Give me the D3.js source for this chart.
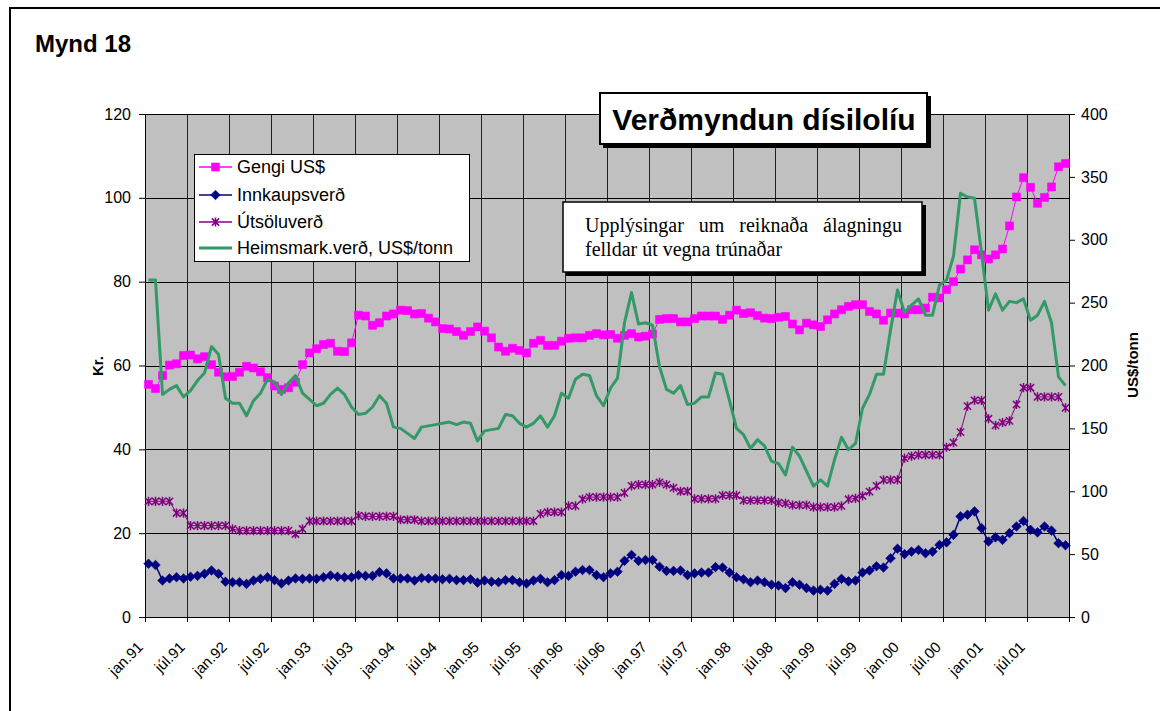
<!DOCTYPE html>
<html>
<head>
<meta charset="utf-8">
<script src="https://cdn.jsdelivr.net/npm/d3@7"></script>
<style>
  body { margin: 0; background: #fff; }
  svg { display: block; font-family: "Liberation Sans", Arial, sans-serif; }
</style>
</head>
<body>
<svg width="1160" height="711"></svg>
<script>
// Monthly values jan.91 - des.01 (132 months)
const gengi = [
  55.5, 54.5, 57.6, 60.1, 60.4, 62.4, 62.5, 61.6, 62.1, 60.2,
  58.4, 57.3, 57.4, 58.4, 59.8, 59.4, 58.5, 57.1, 55.1, 54.3,
  54.7, 56.0, 60.2, 63.0, 64.0, 65.0, 65.3, 63.4, 63.3, 65.4,
  72.0, 71.8, 69.6, 70.2, 71.8, 72.3, 73.2, 73.1, 72.3, 72.4,
  71.3, 70.4, 68.8, 68.7, 68.1, 67.2, 68.1, 69.2, 68.2, 66.6,
  64.4, 63.4, 64.1, 63.6, 63.0, 65.3, 66.0, 64.8, 64.8, 65.8,
  66.5, 66.6, 66.6, 67.2, 67.6, 67.3, 67.4, 66.5, 67.2, 67.6,
  66.8, 67.0, 67.5, 71.0, 71.2, 71.2, 70.4, 70.4, 71.2, 71.8,
  71.8, 71.8, 71.0, 72.0, 73.2, 72.4, 72.6, 71.9, 71.3, 71.2,
  71.5, 71.7, 69.9, 68.5, 70.1, 69.7, 69.3, 70.9, 72.3, 73.3,
  74.1, 74.5, 74.5, 72.9, 72.3, 70.8, 72.5, 72.5, 72.3, 73.3,
  73.3, 73.7, 76.3, 76.1, 78.1, 80.0, 83.0, 85.2, 87.6, 86.4,
  85.4, 86.4, 87.8, 93.3, 100.2, 104.8, 102.5, 98.7, 100.1, 102.6,
  107.4, 108.2
];
const innkaup = [
  12.7, 12.4, 8.7, 9.2, 9.5, 9.2, 9.6, 9.8, 10.3, 11.1,
  10.3, 8.4, 8.3, 8.3, 7.9, 8.7, 9.1, 9.5, 8.8, 8.0,
  8.7, 9.2, 9.1, 9.2, 9.1, 9.5, 9.9, 9.6, 9.5, 9.5,
  10.0, 9.8, 9.8, 10.7, 10.4, 9.2, 9.2, 9.2, 8.7, 9.3,
  9.2, 9.2, 9.0, 9.1, 8.8, 8.8, 9.0, 8.2, 8.7, 8.4,
  8.3, 8.8, 8.8, 8.3, 8.0, 8.7, 9.1, 8.3, 8.8, 10.0,
  9.8, 10.8, 11.2, 11.2, 10.0, 9.5, 10.4, 10.8, 13.4, 14.8,
  13.4, 13.6, 13.6, 12.0, 11.0, 11.0, 11.1, 10.0, 10.4, 10.6,
  10.6, 11.9, 11.8, 10.6, 9.5, 9.0, 8.3, 8.7, 8.3, 7.7,
  7.5, 6.9, 8.3, 7.7, 6.9, 6.3, 6.5, 6.3, 7.9, 9.1,
  8.5, 8.7, 10.6, 11.1, 12.1, 11.8, 14.0, 16.3, 15.0, 15.6,
  16.0, 15.2, 15.6, 17.2, 17.8, 19.6, 24.0, 24.4, 25.2, 21.2,
  18.0, 19.0, 18.4, 20.0, 21.6, 22.9, 20.8, 20.2, 21.6, 20.6,
  17.6, 17.1
];
const utsolu = [
  27.6, 27.6, 27.6, 27.6, 24.8, 24.8, 21.8, 21.8, 21.8, 21.8,
  21.8, 21.8, 21.0, 20.6, 20.6, 20.6, 20.6, 20.6, 20.6, 20.6,
  20.6, 19.8, 21.0, 22.9, 22.9, 22.9, 22.9, 22.9, 22.9, 22.9,
  24.2, 24.0, 24.0, 24.0, 24.0, 24.0, 23.2, 23.2, 23.2, 22.9,
  22.9, 22.9, 22.9, 22.9, 22.9, 22.9, 22.9, 22.9, 22.9, 22.9,
  22.9, 22.9, 22.9, 22.9, 22.9, 22.9, 24.6, 25.0, 25.0, 25.0,
  26.5, 26.5, 28.1, 28.6, 28.6, 28.6, 28.6, 28.6, 29.6, 31.3,
  31.6, 31.6, 31.6, 32.1, 31.6, 30.8, 30.0, 30.0, 28.2, 28.2,
  28.2, 28.2, 29.0, 29.0, 29.0, 27.8, 27.8, 27.8, 27.8, 27.8,
  27.3, 27.1, 26.7, 26.7, 26.7, 26.2, 26.2, 26.2, 26.2, 26.5,
  28.1, 28.3, 28.9, 29.9, 31.3, 32.7, 32.7, 32.7, 37.9, 38.4,
  38.7, 38.7, 38.7, 38.7, 40.5, 41.6, 44.1, 50.3, 51.7, 51.7,
  47.3, 45.7, 46.4, 46.8, 50.7, 54.7, 54.7, 52.5, 52.5, 52.5,
  52.5, 49.9
];
// US$/tonn, right axis
const heimsmark = [
  268, 268, 177, 181, 184, 175, 180, 188, 194, 215,
  209, 174, 170, 170, 160, 172, 178, 189, 187, 177,
  186, 192, 178, 173, 168, 170, 177, 182, 177, 167,
  161, 162, 167, 176, 170, 151, 150, 146, 142, 151,
  152, 153, 154, 155, 153, 155, 154, 140, 148, 149,
  150, 161, 160, 154, 151, 154, 160, 151, 160, 178,
  174, 189, 193, 192, 176, 168, 182, 190, 234, 258,
  233, 234, 232, 199, 181, 178, 184, 169, 170, 175,
  175, 194, 193, 172, 150, 145, 134, 141, 136, 124,
  122, 113, 135, 128, 116, 104, 109, 104, 125, 143,
  133, 138, 166, 177, 193, 193, 228, 260, 242, 248,
  253, 240, 240, 264, 268, 287, 337, 334, 333, 290,
  244, 257, 244, 251, 250, 253, 236, 240, 251, 234,
  191, 184
];

const leftTicks = [0, 20, 40, 60, 80, 100, 120];
const rightTicks = [0, 50, 100, 150, 200, 250, 300, 350, 400];

// month labels, one per month, shown every 6th
const months = [];
for (let y = 91; y <= 101; y++) {
  ["jan", "feb", "mar", "apr", "maí", "jún", "júl", "ágú", "sep", "okt", "nóv", "des"]
    .forEach(m => months.push(m + "." + String(y % 100).padStart(2, "0")));
}

const svg = d3.select("svg");
const plot = { left: 145, right: 1069, top: 114, bottom: 617 };

const x = d3.scaleBand().domain(d3.range(months.length)).range([plot.left, plot.right]);
const xc = i => x(i) + x.bandwidth() / 2;
const yL = d3.scaleLinear().domain([0, 120]).range([plot.bottom, plot.top]);
const yR = d3.scaleLinear().domain([0, 400]).range([plot.bottom, plot.top]);

// outer frame
svg.append("rect")
    .attr("x", 10).attr("y", 8)
    .attr("width", 1200).attr("height", 800)
    .style("fill", "#fff")
    .style("stroke", "#000")
    .style("stroke-width", 2);

svg.append("text")
    .attr("x", 35).attr("y", 52)
    .style("font-size", "24px")
    .style("font-weight", "bold")
    .text("Mynd 18");

// plot background
svg.append("rect")
    .attr("x", plot.left).attr("y", plot.top)
    .attr("width", plot.right - plot.left)
    .attr("height", plot.bottom - plot.top)
    .style("fill", "#c0c0c0");

// vertical gridlines every 6 months
const sixIdx = d3.range(0, months.length, 6);
svg.append("g").selectAll("line")
    .data(sixIdx.slice(1))
    .enter().append("line")
    .attr("x1", d => x(d) + 0.5).attr("x2", d => x(d) + 0.5)
    .attr("y1", plot.top).attr("y2", plot.bottom)
    .style("stroke", "#222")
    .style("stroke-width", 1);

// horizontal gridlines
svg.append("g").selectAll("line")
    .data(leftTicks)
    .enter().append("line")
    .attr("x1", plot.left).attr("x2", plot.right)
    .attr("y1", d => Math.round(yL(d)) + 0.5).attr("y2", d => Math.round(yL(d)) + 0.5)
    .style("stroke", "#000")
    .style("stroke-width", 1);

// axes
const axL = svg.append("g")
    .attr("transform", `translate(${plot.left},0)`)
    .call(d3.axisLeft(yL).tickValues(leftTicks).tickSize(6).tickPadding(8).tickSizeOuter(0));
const axR = svg.append("g")
    .attr("transform", `translate(${plot.right},0)`)
    .call(d3.axisRight(yR).tickValues(rightTicks).tickSize(6).tickPadding(6).tickSizeOuter(0));
[axL, axR].forEach(a => {
    a.selectAll("text").style("font-size", "16px").style("font-family", "'Liberation Sans', Arial, sans-serif").style("fill", "#000");
    a.selectAll("line, path").style("stroke", "#000");
});

// bottom axis line + ticks
svg.append("line")
    .attr("x1", plot.left - 6).attr("x2", plot.right)
    .attr("y1", plot.bottom + 0.5).attr("y2", plot.bottom + 0.5)
    .style("stroke", "#000");
svg.append("g").selectAll("line")
    .data(sixIdx.concat([months.length]))
    .enter().append("line")
    .attr("x1", d => (d < months.length ? x(d) : plot.right) + 0.5)
    .attr("x2", d => (d < months.length ? x(d) : plot.right) + 0.5)
    .attr("y1", plot.bottom).attr("y2", plot.bottom + 5)
    .style("stroke", "#000");

// x labels
svg.append("g").selectAll("text")
    .data(sixIdx)
    .enter().append("text")
    .attr("transform", d => `translate(${x(d) - 1},648) rotate(-45)`)
    .style("text-anchor", "end")
    .style("font-size", "15px")
    .text(d => months[d]);

// axis titles
svg.append("text")
    .attr("transform", "translate(103,366) rotate(-90)")
    .style("text-anchor", "middle")
    .style("font-size", "15px")
    .style("font-weight", "bold")
    .text("Kr.");
svg.append("text")
    .attr("transform", "translate(1138,365) rotate(-90)")
    .style("text-anchor", "middle")
    .style("font-size", "15px")
    .style("font-weight", "bold")
    .text("US$/tonn");

// series
const lineL = d3.line().x((d, i) => xc(i)).y(d => yL(d));
const lineR = d3.line().x((d, i) => xc(i)).y(d => yR(d));

const squarePath = "M-4,-4L4,-4L4,4L-4,4Z";
const diamondPath = "M0,-4.8L4.8,0L0,4.8L-4.8,0Z";
const starPath = "M-3.6,-3.6L3.6,3.6M-3.6,3.6L3.6,-3.6M0,-4.6L0,4.6";

function drawSeries(values, color, width, marker) {
    svg.append("path")
        .datum(values)
        .attr("d", lineL)
        .style("fill", "none")
        .style("stroke", color)
        .style("stroke-width", width);
    svg.append("g").selectAll("path")
        .data(values)
        .enter().append("path")
        .attr("transform", (d, i) => `translate(${xc(i)},${yL(d)})`)
        .attr("d", marker)
        .style("fill", marker === starPath ? "none" : color)
        .style("stroke", color)
        .style("stroke-width", marker === starPath ? 1.5 : 0.6);
}

drawSeries(gengi, "#ff00ff", 1, squarePath);
drawSeries(innkaup, "#000080", 1.5, diamondPath);
drawSeries(utsolu, "#800080", 1, starPath);

svg.append("path")
    .datum(heimsmark)
    .attr("d", lineR)
    .style("fill", "none")
    .style("stroke", "#339966")
    .style("stroke-width", 3)
    .style("stroke-linejoin", "round");

// legend
const legend = svg.append("g");
legend.append("rect")
    .attr("x", 194.5).attr("y", 154.5)
    .attr("width", 275).attr("height", 107)
    .style("fill", "#fff")
    .style("stroke", "#000")
    .style("stroke-width", 1);
const legendItems = [
    { name: "Gengi US$", color: "#ff00ff", marker: squarePath, w: 1.5 },
    { name: "Innkaupsverð", color: "#000080", marker: diamondPath, w: 1.5 },
    { name: "Útsöluverð", color: "#800080", marker: starPath, w: 1.5 },
    { name: "Heimsmark.verð, US$/tonn", color: "#339966", marker: null, w: 3 }
];
const legendY = [167, 195, 222, 248];
legendItems.forEach((it, k) => {
    const g = legend.append("g").attr("transform", `translate(0,${legendY[k]})`);
    g.append("line")
        .attr("x1", 199).attr("x2", 232)
        .style("stroke", it.color)
        .style("stroke-width", it.w);
    if (it.marker) {
        g.append("path")
            .attr("transform", "translate(215.5,0)")
            .attr("d", it.marker)
            .style("fill", it.marker === starPath ? "none" : it.color)
            .style("stroke", it.color)
            .style("stroke-width", it.marker === starPath ? 1.5 : 0.6);
    }
    g.append("text")
        .attr("x", 237).attr("dy", "0.35em")
        .style("font-size", "18px")
        .text(it.name);
});

// title box with shadow
svg.append("rect")
    .attr("x", 603).attr("y", 96)
    .attr("width", 328).attr("height", 52)
    .style("fill", "#000");
svg.append("rect")
    .attr("x", 600).attr("y", 93)
    .attr("width", 327).attr("height", 51)
    .style("fill", "#fff")
    .style("stroke", "#000")
    .style("stroke-width", 2);
svg.append("text")
    .attr("x", 764).attr("y", 130)
    .style("text-anchor", "middle")
    .style("font-size", "30px")
    .style("font-weight", "bold")
    .text("Verðmyndun dísilolíu");

// note box
svg.append("rect")
    .attr("x", 566).attr("y", 205)
    .attr("width", 360).attr("height", 71)
    .style("fill", "#000");
svg.append("rect")
    .attr("x", 563).attr("y", 202)
    .attr("width", 359).attr("height", 70)
    .style("fill", "#fff")
    .style("stroke", "#000")
    .style("stroke-width", 1.5);
const noteFont = "'Liberation Serif', 'Times New Roman', serif";
const note1 = svg.append("text")
    .attr("x", 585).attr("y", 232)
    .style("font-family", noteFont)
    .style("font-size", "20px")
    .text("Upplýsingar um reiknaða álagningu");
// justify first line by widening the word gaps
const natural = note1.node().getComputedTextLength();
note1.style("word-spacing", Math.max(0, (317 - natural) / 3) + "px");
svg.append("text")
    .attr("x", 585).attr("y", 256)
    .style("font-family", noteFont)
    .style("font-size", "20px")
    .text("felldar út vegna trúnaðar");
</script>
</body>
</html>
